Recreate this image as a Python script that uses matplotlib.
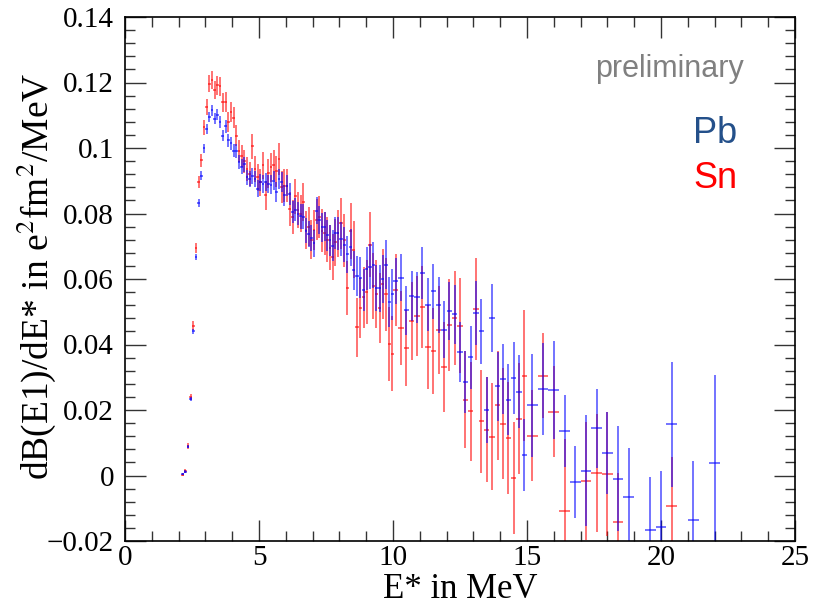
import matplotlib
matplotlib.use("Agg")
import matplotlib.pyplot as plt
from matplotlib.ticker import MultipleLocator, FuncFormatter
import numpy as np

# bin centres in MeV (same binning for both targets)
energy = [2.15, 2.25, 2.35, 2.45, 2.55, 2.65, 2.75, 2.85, 2.95, 3.05,
          3.15, 3.25, 3.35, 3.45, 3.55, 3.65, 3.75, 3.85, 3.95, 4.05,
          4.15, 4.25, 4.35, 4.45, 4.55, 4.65, 4.75, 4.85, 4.95, 5.05,
          5.15, 5.25, 5.35, 5.45, 5.55, 5.65, 5.75, 5.85, 5.95, 6.05,
          6.15, 6.25, 6.35, 6.45, 6.55, 6.65, 6.75, 6.85, 6.95, 7.05,
          7.15, 7.25, 7.35, 7.45, 7.55, 7.65, 7.75, 7.85, 7.95,
          8.06, 8.18, 8.30, 8.42, 8.54, 8.66, 8.78, 8.90, 9.02, 9.14,
          9.26, 9.38, 9.50, 9.62, 9.74, 9.86, 9.98,
          10.1, 10.3, 10.5, 10.7, 10.9, 11.1, 11.3, 11.5, 11.7, 11.9,
          12.1, 12.3, 12.5, 12.7, 12.9, 13.1, 13.3, 13.5, 13.7, 13.9,
          14.1, 14.3, 14.5, 14.7, 14.9,
          15.2, 15.6, 16.0, 16.4, 16.8, 17.2, 17.6, 18.0, 18.4, 18.8,
          19.2, 19.6, 20.0, 20.4, 20.8, 21.2, 21.6, 22.0]
half_width = [0.05] * 59 + [0.06] * 17 + [0.1] * 25 + [0.2] * 18

nan = float("nan")

pb = [0.0004, 0.0012, 0.0088, 0.0235, 0.0440, 0.0667, 0.0831, 0.0916, 0.0999, 0.1059,
      0.1094, 0.1115, 0.1089, 0.1101, 0.1079, 0.1038, 0.1066, 0.1023, 0.1015, 0.0992,
      0.0990, 0.0957, 0.0943, 0.0950, 0.0911, 0.0906, 0.0915, 0.0906, 0.0875, 0.0896,
      0.0890, 0.0896, 0.0890, 0.0888, 0.0900, 0.0865, 0.0906, 0.0896, 0.0855, 0.0885,
      0.0860, 0.0804, 0.0811, 0.0800, 0.0791, 0.0790, 0.0748, 0.0738, 0.0726, 0.0709,
      0.0809, 0.0781, 0.0758, 0.0760, 0.0733, 0.0718, 0.0702, 0.0740, 0.0740,
      0.0721, 0.0705, 0.0675, 0.0697, 0.0626, 0.0610, 0.0604, 0.0567, 0.0631, 0.0638,
      0.0643, 0.0572, 0.0572, 0.0600, 0.0643, 0.0529, 0.0553,
      0.0595, 0.0604, 0.0504, 0.0547, 0.0544, 0.0618, 0.0522, 0.0562, 0.0521, 0.0445,
      0.0502, 0.0492, 0.0377, 0.0285, 0.0361, 0.0496, 0.0440, 0.0200, 0.0481, 0.0272,
      0.0295, 0.0231, 0.0297, 0.0256, 0.0064,
      0.0214, 0.0265, 0.0262, 0.0137, -0.0020, 0.0015, 0.0144, 0.0068, -0.0010, -0.0066,
      nan, -0.0166, -0.0156, 0.0156, nan, -0.0137, nan, 0.0038]
pb_err = [0.0003, 0.0004, 0.0005, 0.0006, 0.0008, 0.0010, 0.0012, 0.0013, 0.0014, 0.0015,
          0.0016, 0.0016, 0.0017, 0.0017, 0.0018, 0.0018, 0.0019, 0.0019, 0.0020, 0.0020,
          0.0021, 0.0021, 0.0022, 0.0022, 0.0023, 0.0024, 0.0024, 0.0025, 0.0026, 0.0026,
          0.0027, 0.0027, 0.0028, 0.0029, 0.0029, 0.0030, 0.0031, 0.0031, 0.0032, 0.0033,
          0.0034, 0.0034, 0.0035, 0.0036, 0.0037, 0.0038, 0.0038, 0.0039, 0.0040, 0.0041,
          0.0042, 0.0043, 0.0044, 0.0045, 0.0046, 0.0047, 0.0048, 0.0049, 0.0050,
          0.0052, 0.0054, 0.0056, 0.0057, 0.0059, 0.0061, 0.0062, 0.0064, 0.0066, 0.0068,
          0.0069, 0.0071, 0.0072, 0.0074, 0.0075, 0.0077, 0.0078,
          0.0070, 0.0072, 0.0074, 0.0076, 0.0078, 0.0080, 0.0081, 0.0083, 0.0085, 0.0087,
          0.0089, 0.0090, 0.0092, 0.0094, 0.0096, 0.0098, 0.0099, 0.0101, 0.0103, 0.0105,
          0.0106, 0.0108, 0.0110, 0.0112, 0.0110,
          0.0157, 0.0140, 0.0150, 0.0110, 0.0110, 0.0170, 0.0120, 0.0125, 0.0160, 0.0150,
          nan, 0.0160, 0.0170, 0.0190, nan, 0.0180, nan, 0.0270]

sn = [0.0003, 0.0014, 0.0090, 0.0240, 0.0458, 0.0695, 0.0896, 0.0962, 0.1064, 0.1125,
      0.1196, 0.1208, 0.1178, 0.1191, 0.1188, 0.1140, 0.1140, 0.1080, 0.1110, 0.1092,
      0.1038, 0.0990, 0.0975, 0.0960, 0.0935, 0.0920, 0.1005, 0.0936, 0.0910, 0.0895,
      0.0947, 0.0855, 0.0923, 0.0941, 0.0947, 0.0929, 0.0967, 0.0880, 0.0885, 0.0885,
      0.0814, 0.0789, 0.0852, 0.0810, 0.0800, 0.0835, 0.0750, 0.0760, 0.0720, 0.0750,
      0.0781, 0.0790, 0.0748, 0.0740, 0.0720, 0.0695, 0.0667, 0.0712, 0.0740,
      0.0770, 0.0718, 0.0573, 0.0746, 0.0690, 0.0453, 0.0511, 0.0544, 0.0560, 0.0705,
      0.0579, 0.0553, 0.0512, 0.0585, 0.0553, 0.0402, 0.0372,
      0.0567, 0.0450, 0.0389, 0.0473, 0.0486, 0.0514, 0.0392, 0.0379, 0.0445, 0.0331,
      0.0460, 0.0481, 0.0458, 0.0232, 0.0196, 0.0509, 0.0165, 0.0140, 0.0119, 0.0214,
      0.0158, 0.0115, -0.0008, 0.0174, 0.0305,
      0.0122, 0.0305, 0.0195, -0.0109, nan, -0.0018, 0.0007, 0.0005, -0.0142, nan,
      nan, nan, nan, -0.0093, nan, nan, nan, nan]
sn_err = [0.0004, 0.0006, 0.0008, 0.0010, 0.0013, 0.0016, 0.0019, 0.0021, 0.0023, 0.0025,
          0.0026, 0.0027, 0.0027, 0.0028, 0.0029, 0.0029, 0.0030, 0.0031, 0.0031, 0.0032,
          0.0033, 0.0034, 0.0034, 0.0035, 0.0036, 0.0037, 0.0038, 0.0039, 0.0040, 0.0041,
          0.0042, 0.0043, 0.0044, 0.0045, 0.0046, 0.0047, 0.0048, 0.0049, 0.0050, 0.0051,
          0.0052, 0.0053, 0.0054, 0.0055, 0.0056, 0.0057, 0.0058, 0.0059, 0.0060, 0.0062,
          0.0063, 0.0064, 0.0065, 0.0066, 0.0068, 0.0069, 0.0070, 0.0071, 0.0072,
          0.0078, 0.0080, 0.0083, 0.0085, 0.0087, 0.0090, 0.0092, 0.0094, 0.0097, 0.0099,
          0.0101, 0.0104, 0.0106, 0.0108, 0.0111, 0.0113, 0.0115,
          0.0110, 0.0113, 0.0116, 0.0119, 0.0122, 0.0125, 0.0128, 0.0131, 0.0134, 0.0137,
          0.0140, 0.0143, 0.0146, 0.0149, 0.0152, 0.0155, 0.0158, 0.0161, 0.0164, 0.0167,
          0.0170, 0.0170, 0.0170, 0.0170, 0.0200,
          0.0140, 0.0130, 0.0140, 0.0220, nan, 0.0180, 0.0180, 0.0190, 0.0150, nan,
          nan, nan, nan, 0.0150, nan, nan, nan, nan]

plt.rcParams['font.family'] = ['Liberation Serif', 'DejaVu Serif']
plt.rcParams['mathtext.fontset'] = 'stix'

fig = plt.figure(figsize=(8.19, 6.09), dpi=100)
ax = fig.add_axes([125 / 819, 1 - 541 / 609, 670 / 819, 524 / 609])

E = np.array(energy)
ax.errorbar(E, sn, yerr=sn_err, xerr=half_width, fmt='none',
            ecolor=(1, 0, 0, 0.55), elinewidth=1.4, capsize=0)
ax.errorbar(E, pb, yerr=pb_err, xerr=half_width, fmt='none',
            ecolor=(0, 0, 1, 0.55), elinewidth=1.4, capsize=0)

ax.set_xlim(0, 25)
ax.set_ylim(-0.02, 0.14)
ax.xaxis.set_major_locator(MultipleLocator(5))
ax.xaxis.set_minor_locator(MultipleLocator(1))
ax.yaxis.set_major_locator(MultipleLocator(0.02))
ax.yaxis.set_minor_locator(MultipleLocator(0.004))
ax.yaxis.set_major_formatter(FuncFormatter(lambda v, p: ('%g' % round(v, 4)).replace('-', '\u2212')))
ax.tick_params(which='both', direction='in', top=True, right=True, width=1.0, color='#333333')
ax.tick_params(which='major', length=15, labelsize=21)
ax.tick_params(which='minor', length=7)
ax.tick_params(axis='x', which='major', pad=3)
ax.tick_params(axis='y', which='major', pad=8)
for s in ax.spines.values():
    s.set_linewidth(1.2)

ax.set_xlabel('E* in MeV', fontsize=25, labelpad=1)
ax.set_ylabel(r'dB(E1)/dE* in e$^2$fm$^2$/MeV', fontsize=27)
ax.yaxis.set_label_coords(-0.1, 0.505)

ax.text(595 / 819 * 1, 1 - 77 / 609, 'preliminary', transform=fig.transFigure,
        fontsize=22, color='#808080', family='Liberation Sans', va='baseline')
ax.text(693 / 819, 1 - 143 / 609, 'Pb', transform=fig.transFigure,
        fontsize=26, color='#24508a', family='Liberation Sans', va='baseline')
ax.text(693 / 819, 1 - 188 / 609, 'Sn', transform=fig.transFigure,
        fontsize=26, color='#ff0000', family='Liberation Sans', va='baseline')

fig.savefig('out.png', dpi=100)
